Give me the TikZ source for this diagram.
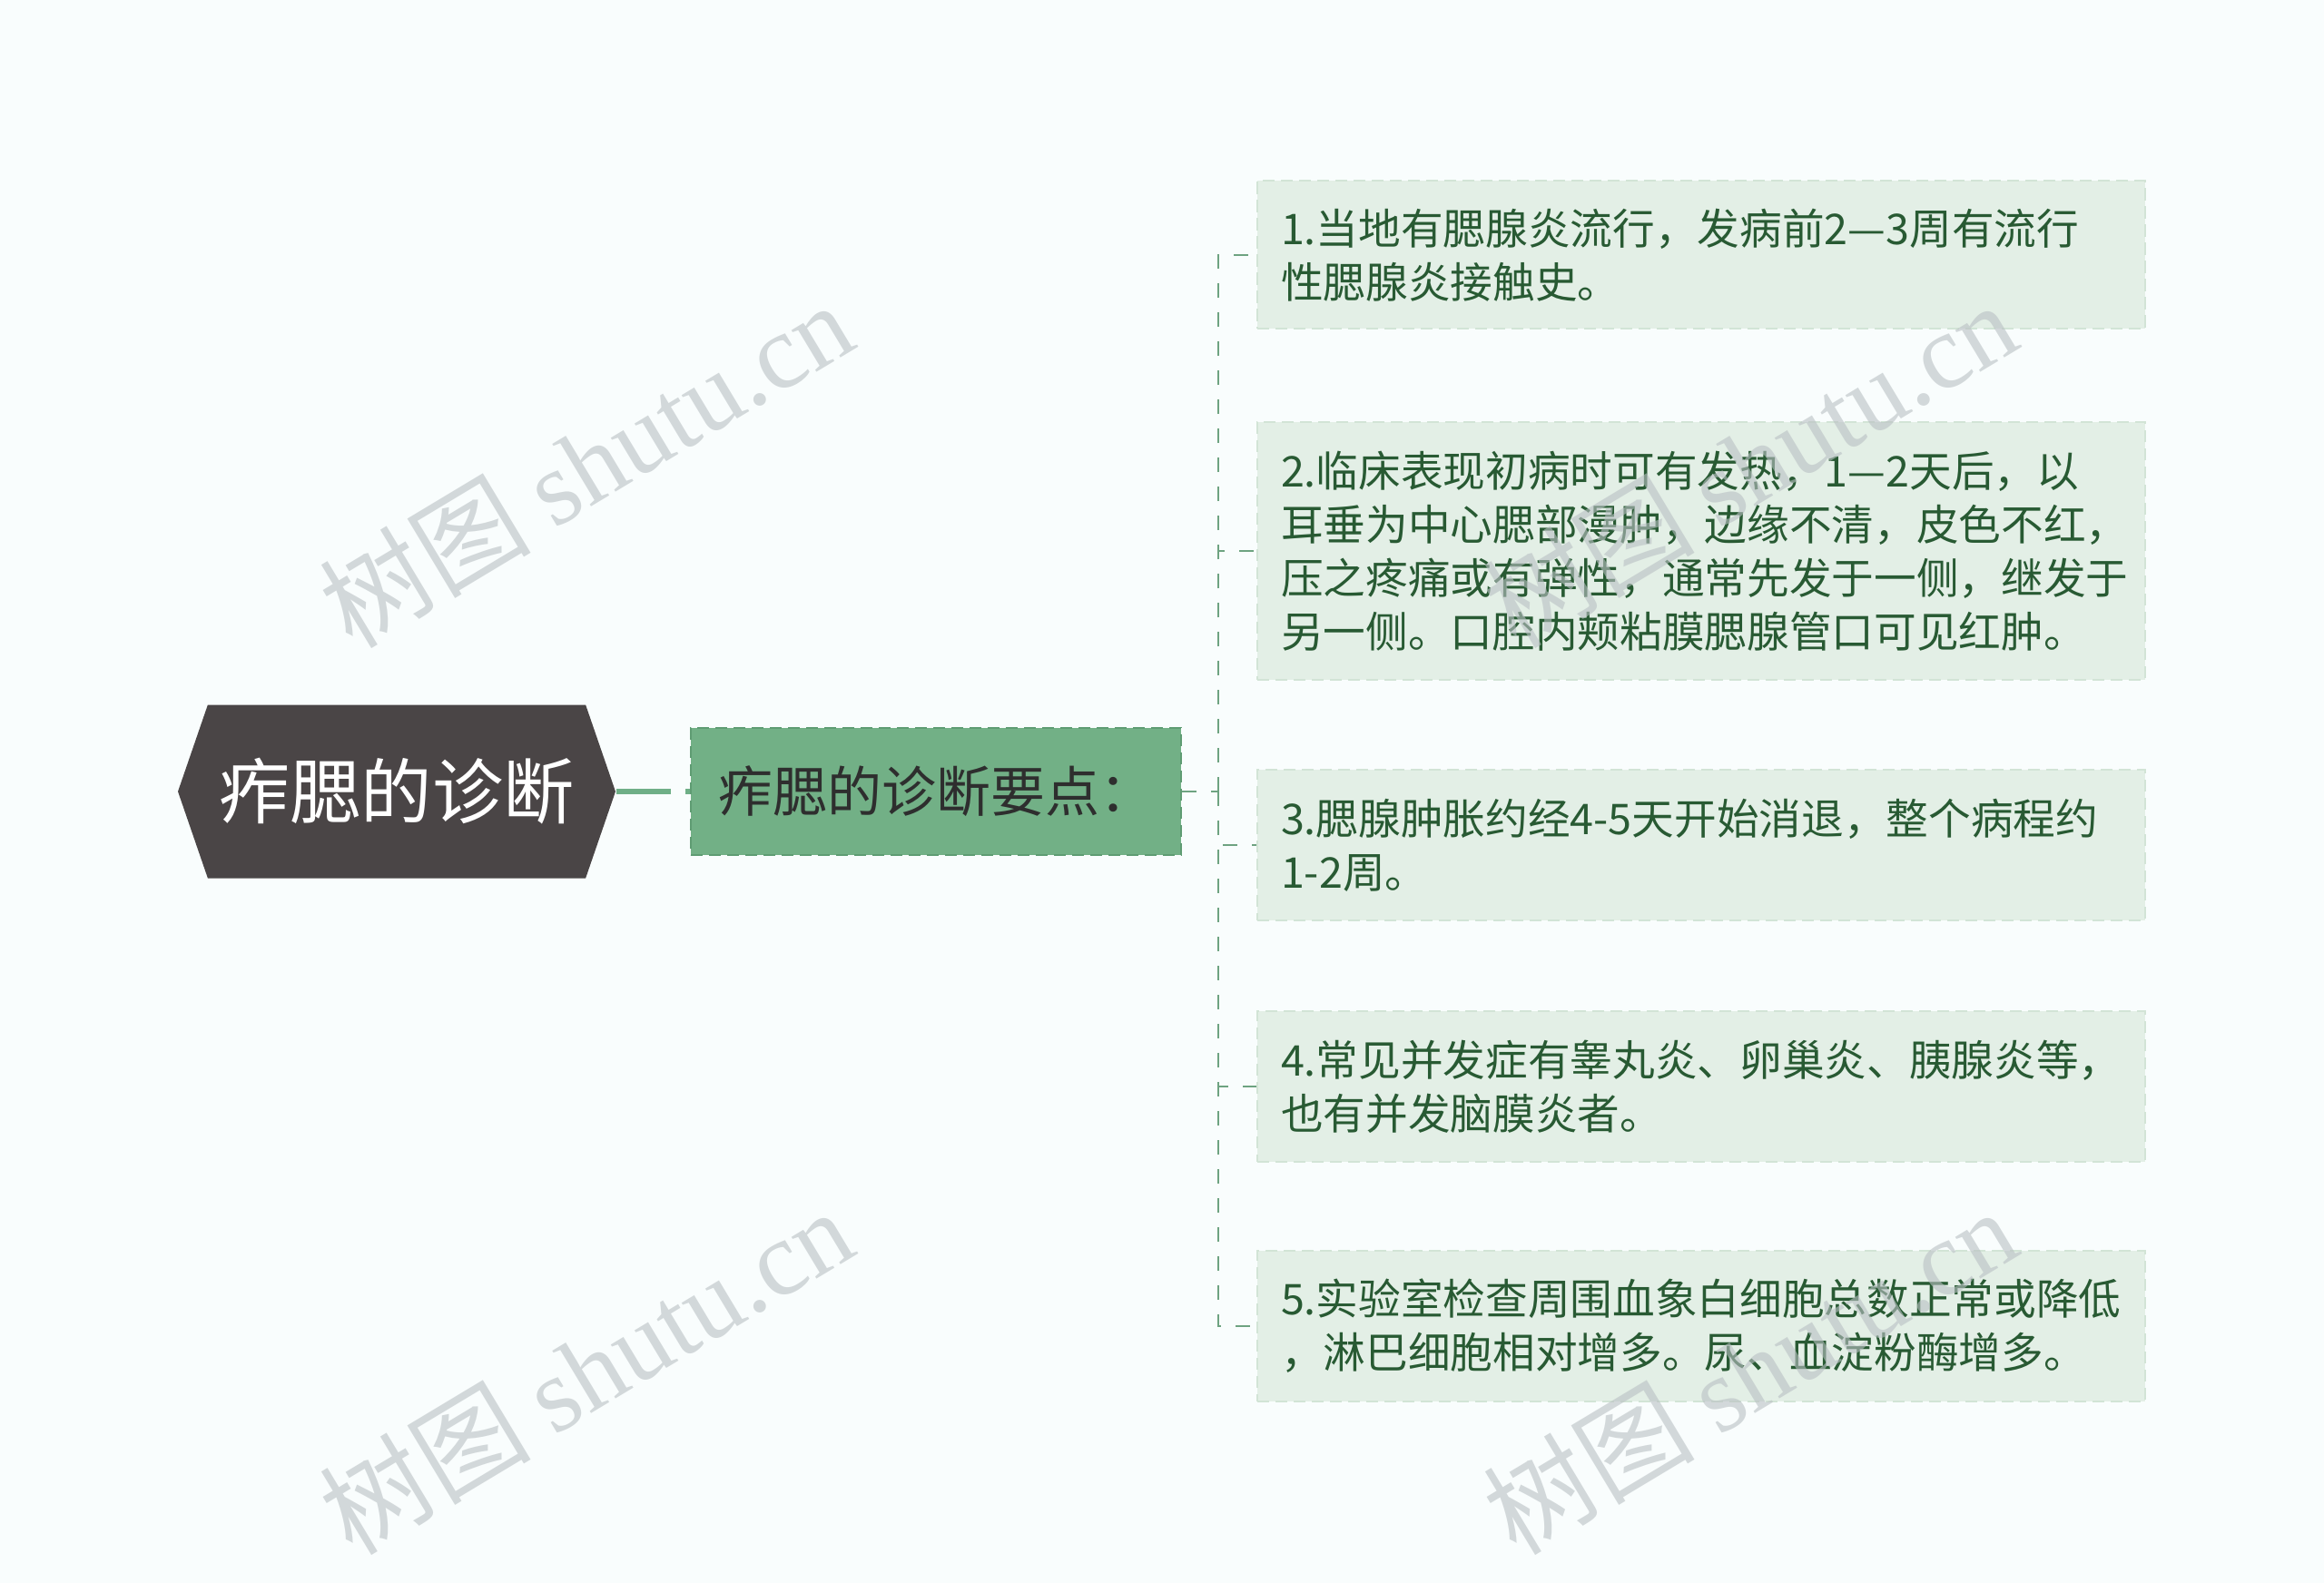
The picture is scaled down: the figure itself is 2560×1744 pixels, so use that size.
\documentclass[tikz,border=0pt]{standalone}
\usepackage{fontspec}
\setmainfont{Noto Sans CJK SC}
\newfontfamily\wmfont{Liberation Serif}
\usetikzlibrary{positioning}
\usetikzlibrary{shapes.symbols}

\definecolor{bgcol}{HTML}{F9FDFD}
\definecolor{rootcol}{HTML}{4A4546}
\definecolor{linkcol}{HTML}{6FAF87}
\definecolor{subcol}{HTML}{72B086}
\definecolor{subedge}{HTML}{5F9C73}
\definecolor{leafcol}{HTML}{E3EFE6}
\definecolor{leafedge}{HTML}{D2E4D6}
\definecolor{leaftext}{HTML}{285A33}
\definecolor{elbowcol}{HTML}{6EA381}
\definecolor{wmcol}{HTML}{B9C0C3}

\tikzset{
  rootnode/.style={shape=signal, signal to=west and east, signal pointer angle=142,
    fill=rootcol, text=white, minimum width=144.6pt, minimum height=57.3pt,
    inner sep=0pt, font=\fontsize{23.5}{28}\selectfont},
  subnode/.style={draw=subedge, dash pattern=on 4pt off 2pt, line width=0.6pt,
    fill=subcol, text=black!82, minimum width=162pt, minimum height=42pt,
    inner sep=0pt, font=\fontsize{18}{21}\selectfont},
  leafnode/.style={draw=leafedge, dash pattern=on 4pt off 2pt, line width=0.6pt,
    fill=leafcol, text=leaftext, text width=277.8pt, align=left,
    inner xsep=7.8pt, inner ysep=0pt, font=\fontsize{14}{17.7}\selectfont},
  elbow/.style={draw=elbowcol, line width=0.8pt, dash pattern=on 4.8pt off 4.8pt},
  mark text/.style={text=wmcol, opacity=0.6, rotate=31, font=\fontsize{35}{40}\selectfont}
}

\begin{document}
\begin{tikzpicture}[x=0.3pt, y=-0.3pt]
  % fondo
  \fill[bgcol] (0,0) rectangle (2560,1744);
  \useasboundingbox (0,0) rectangle (2560,1744);

  % nodos
  \node[rootnode] (root) at (437,872) {痄腮的诊断};
  \node[subnode] (sub) at (1031,872) {痄腮的诊断要点：};
  \coordinate (fork) at (1342,872);

  \node[leafnode, minimum height=48.9pt] (b1) at (1874,281)
    {1.当地有腮腺炎流行，发病前2—3周有流行\\性腮腺炎接触史。};
  \node[leafnode, minimum height=85.2pt] (b2) at (1874,607)
    {2.临床表现初病时可有发热，1—2天后，以\\耳垂为中心腮部漫肿，边缘不清，皮色不红，\\压之疼痛或有弹性，通常先发于一侧，继发于\\另一侧。口腔内颊粘膜腮腺管口可见红肿。};
  \node[leafnode, minimum height=49.8pt] (b3) at (1874,931)
    {3.腮腺肿胀约经4-5天开始消退，整个病程约\\1-2周。};
  \node[leafnode, minimum height=49.8pt] (b4) at (1874,1197)
    {4.常见并发症有睾丸炎、卵巢炎、胰腺炎等，\\也有并发脑膜炎者。};
  \node[leafnode, minimum height=49.8pt] (b5) at (1874,1461)
    {5.实验室检查周围血象白细胞总数正常或降低\\，淋巴细胞相对增多。尿、血淀粉酶增多。};

  % aristas
  \draw[linkcol, line width=1.8pt, dash pattern=on 18pt off 5pt] (root.east) -- (sub.west);
  \draw[elbow] (sub.east) -- (fork);
  \draw[elbow] (fork) |- (b1.west);
  \draw[elbow] (fork) |- (b2.west);
  \draw[elbow] (fork) |- (b3.west);
  \draw[elbow] (fork) |- (b4.west);
  \draw[elbow] (fork) |- (b5.west);

  % marcas de agua
  \node[mark text] (wm1) at (645,511) {树图 {\wmfont shutu.cn}};
  \node[mark text] (wm2) at (645,1510) {树图 {\wmfont shutu.cn}};
  \node[mark text] (wm3) at (1927,511) {树图 {\wmfont shutu.cn}};
  \node[mark text] (wm4) at (1927,1510) {树图 {\wmfont shutu.cn}};
\end{tikzpicture}
\end{document}
